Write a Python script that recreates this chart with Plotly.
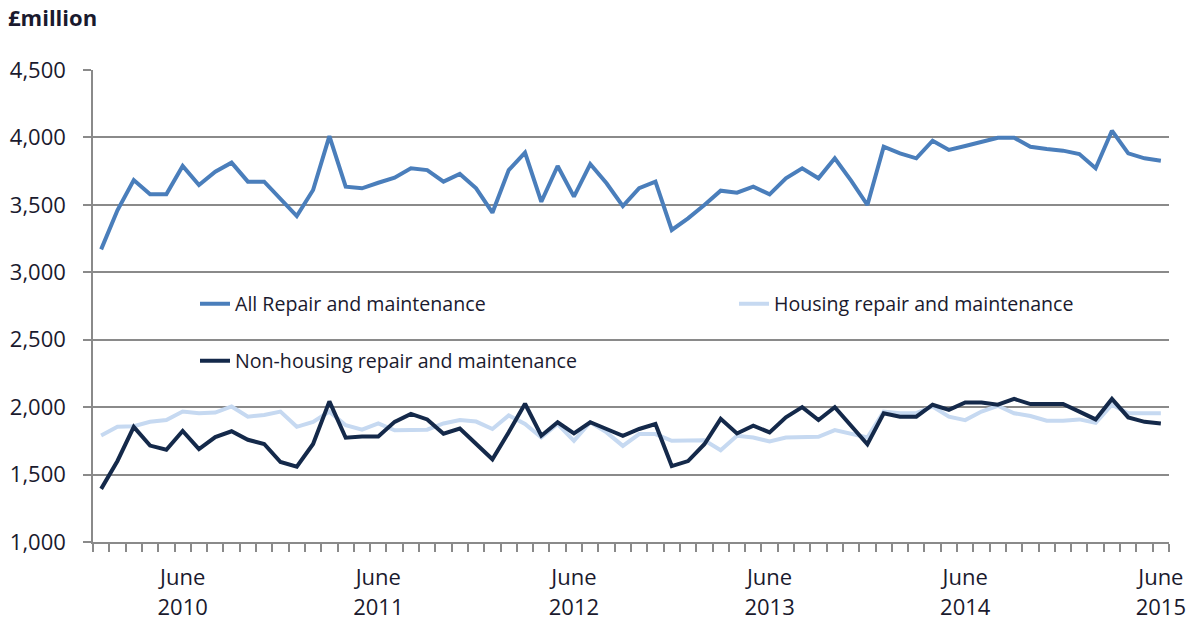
import plotly.graph_objects as go

# Monthly periods: Jan 2010 .. Jun 2015
month_names = ["Jan", "Feb", "Mar", "Apr", "May", "June", "Jul", "Aug", "Sep", "Oct", "Nov", "Dec"]
periods = [f"{m} {y}" for y in range(2010, 2016) for m in month_names][:66]

all_rm = [3170, 3460, 3684, 3578, 3578, 3788, 3647, 3746, 3813, 3672, 3672, 3549,
          3417, 3610, 4010, 3635, 3623, 3664, 3701, 3771, 3758, 3672, 3729, 3623,
          3442, 3758, 3887, 3523, 3788, 3561, 3803, 3660, 3491, 3623, 3672, 3314,
          3400, 3499, 3605, 3590, 3635, 3578, 3697, 3771, 3697, 3845, 3680, 3499,
          3931, 3882, 3845, 3976, 3907, 3936, 3968, 3998, 3998, 3931, 3914, 3902,
          3877, 3771, 4050, 3882, 3845, 3827]

housing = [1790, 1854, 1859, 1891, 1904, 1967, 1955, 1960, 2005, 1929, 1942, 1967,
           1854, 1891, 1967, 1866, 1833, 1879, 1828, 1833, 1833, 1879, 1904, 1893,
           1838, 1938, 1875, 1775, 1875, 1750, 1888, 1813, 1713, 1800, 1800, 1750,
           1750, 1755, 1680, 1788, 1775, 1745, 1775, 1775, 1780, 1830, 1805, 1775,
           1967, 1955, 1955, 2005, 1929, 1904, 1967, 2010, 1955, 1934, 1899, 1899,
           1909, 1884, 2018, 1955, 1955, 1955]

non_housing = [1394, 1601, 1854, 1715, 1684, 1823, 1689, 1778, 1821, 1758, 1727, 1593,
               1558, 1727, 2043, 1773, 1783, 1783, 1891, 1950, 1909, 1803, 1841, 1727,
               1613, 1813, 2025, 1788, 1888, 1805, 1888, 1838, 1788, 1838, 1875, 1563,
               1600, 1725, 1913, 1805, 1863, 1813, 1925, 2000, 1905, 2000, 1863, 1725,
               1955, 1929, 1929, 2018, 1980, 2035, 2035, 2018, 2061, 2023, 2023, 2023,
               1967, 1909, 2061, 1924, 1891, 1879]

label_periods = ["June 2010", "June 2011", "June 2012", "June 2013", "June 2014", "June 2015"]
month_labels = ["June"] * 6
year_labels = ["2010", "2011", "2012", "2013", "2014", "2015"]

x_idx = list(range(len(periods)))
label_pos = [periods.index(p) for p in label_periods]

FONT = "'Open Sans', Lato, sans-serif"
TXT = "#1a1a2e"
GRID = "#8a8a8a"

# plot area target (page pixels): x 93..1169, y 70..542 ; body margin removed below
W, H = 1190, 625
ML, MR, MT, MB = 93, 1190 - 1169, 70, 625 - 542
PW, PH = W - ML - MR, H - MT - MB


def px_x(sx):
    return (sx - ML) / PW


def px_y(sy):
    return 1 - (sy - MT) / PH


fig = go.Figure()
fig.add_trace(go.Scatter(x=x_idx, y=all_rm, mode="lines", name="All Repair and maintenance",
                         line=dict(color="#4a7ebb", width=4), legend="legend"))
fig.add_trace(go.Scatter(x=x_idx, y=housing, mode="lines", name="Housing repair and maintenance",
                         line=dict(color="#c6d9f1", width=4), legend="legend2"))
fig.add_trace(go.Scatter(x=x_idx, y=non_housing, mode="lines", name="Non-housing repair and maintenance",
                         line=dict(color="#14294a", width=4), legend="legend3"))
# empty helper traces so the label axes are rendered
fig.add_trace(go.Scatter(x=[], y=[], xaxis="x2", yaxis="y", showlegend=False, hoverinfo="skip"))
fig.add_trace(go.Scatter(x=[], y=[], xaxis="x3", yaxis="y", showlegend=False, hoverinfo="skip"))

xr = [-0.5, len(periods) - 0.5]

leg_common = dict(orientation="v", xanchor="left", yanchor="middle",
                  bgcolor="rgba(0,0,0,0)", font=dict(size=19.6, color=TXT, family=FONT))

fig.update_layout(
    width=W, height=H,
    margin=dict(l=ML, r=MR, t=MT, b=MB, pad=0, autoexpand=False),
    paper_bgcolor="white", plot_bgcolor="white",
    font=dict(family=FONT, color=TXT, size=22),
    title=dict(text="<b>£million</b>", xref="container", yref="container",
               x=8 / W, xanchor="left", y=1 - 18 / H, yanchor="middle",
               pad=dict(l=0, r=0, t=0, b=0),
               font=dict(family=FONT, size=22, color=TXT)),
    showlegend=True,
    xaxis=dict(range=xr, tickmode="linear", tick0=-0.5, dtick=1,
               ticks="outside", ticklen=8, tickwidth=1.5, tickcolor=GRID,
               showticklabels=False, showgrid=False, zeroline=False,
               showline=True, linecolor=GRID, linewidth=1.5, automargin=False),
    xaxis2=dict(range=xr, overlaying="x", anchor="y", side="bottom",
                tickmode="array", tickvals=label_pos, ticktext=month_labels,
                ticks="", showgrid=False, zeroline=False, showline=False, automargin=False,
                ticklabelstandoff=20, tickfont=dict(size=22, color=TXT, family=FONT)),
    xaxis3=dict(range=xr, overlaying="x", anchor="y", side="bottom",
                tickmode="array", tickvals=label_pos, ticktext=year_labels,
                ticks="", showgrid=False, zeroline=False, showline=False, automargin=False,
                ticklabelstandoff=50, tickfont=dict(size=22, color=TXT, family=FONT)),
    yaxis=dict(range=[1000, 4500], tickmode="linear", tick0=1000, dtick=500,
               tickformat=",d", ticks="outside", ticklen=8, tickwidth=1.5, tickcolor=GRID,
               showgrid=True, gridcolor=GRID, gridwidth=1.5, zeroline=False,
               showline=True, linecolor=GRID, linewidth=1.5, automargin=False,
               tickfont=dict(size=22, color=TXT, family=FONT), ticklabelstandoff=13),
    legend=dict(x=px_x(195), y=px_y(304), **leg_common),
    legend2=dict(x=px_x(734), y=px_y(304), **leg_common),
    legend3=dict(x=px_x(195), y=px_y(361), **leg_common),
)

fig.write_html("out.html",
               config={"displayModeBar": False},
               post_script="document.body.style.margin='0';document.body.style.overflow='hidden';")
